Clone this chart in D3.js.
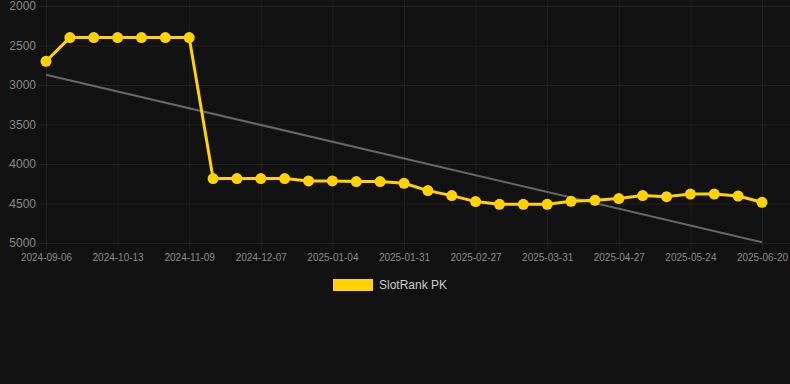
<!DOCTYPE html>
<html>
<head>
<meta charset="utf-8">
<script src="https://cdn.jsdelivr.net/npm/d3@7"></script>
<style>
  html, body { margin: 0; padding: 0; background: #111111; }
  svg { display: block; font-family: "Liberation Sans", Arial, sans-serif; }
</style>
</head>
<body>
<div id="chart"></div>
<script>
// Rank history line chart (lower rank number = better, so y is reversed)

const dates = [
  "2024-09-06", "2024-09-18", "2024-10-01", "2024-10-13", "2024-10-22", "2024-10-31",
  "2024-11-09", "2024-11-18", "2024-11-28", "2024-12-07", "2024-12-16", "2024-12-25",
  "2025-01-04", "2025-01-13", "2025-01-22", "2025-01-31", "2025-02-09", "2025-02-18",
  "2025-02-27", "2025-03-10", "2025-03-21", "2025-03-31", "2025-04-09", "2025-04-18",
  "2025-04-27", "2025-05-06", "2025-05-15", "2025-05-24", "2025-06-02", "2025-06-11",
  "2025-06-20"];

const ranks = [
  2700, 2400, 2400, 2400, 2400, 2400,
  2400, 4185, 4185, 4185, 4185, 4215,
  4215, 4223, 4223, 4244, 4337, 4400,
  4476, 4510, 4510, 4510, 4472, 4460,
  4438, 4400, 4413, 4380, 4380, 4405,
  4485];

// trend line end points (first and last date)
const trendDates = ["2024-09-06", "2025-06-20"];
const trendValues = [2870, 4990];

const yTicks = [2000, 2500, 3000, 3500, 4000, 4500, 5000];
const seriesName = "SlotRank PK";

const width = 790, height = 384;
const yellow = "#FFD200";

const svg = d3.select("#chart").
append("svg").
attr("width", width).
attr("height", height);

const x = d3.scalePoint().
domain(dates).
range([46, 762]);

const y = d3.scaleLinear().
domain([2000, 5000]).
range([6, 243]);

const gridColor = "#1f1f1f";

// Horizontal grid + y labels
const yAxis = svg.append("g").
attr("transform", "translate(38,0)").
call(d3.axisRight(y).
tickValues(yTicks).
tickSize(width - 38).
tickFormat(d3.format("d")));

yAxis.select(".domain").remove();
yAxis.selectAll(".tick line").attr("stroke", gridColor);
yAxis.selectAll(".tick text").
attr("x", -2).
attr("text-anchor", "end").
attr("fill", "#8a8a8a").
style("font-size", "12px");

// Vertical grid + x labels (every third date)
const xTickVals = dates.filter((d, i) => i % 3 === 0);
const xAxis = svg.append("g").
attr("transform", "translate(0,250)").
call(d3.axisBottom(x).
tickValues(xTickVals).
tickSize(-250).
tickPadding(4));

xAxis.select(".domain").remove();
xAxis.selectAll(".tick line").attr("stroke", gridColor);
xAxis.selectAll(".tick text").
attr("fill", "#8a8a8a").
style("font-size", "10px");

// Trend line
svg.append("path").
datum(trendDates.map((d, i) => [d, trendValues[i]])).
attr("fill", "none").
attr("stroke", "#666666").
attr("stroke-width", 2).
attr("d", d3.line().x(d => x(d[0])).y(d => y(d[1])));

// Series line
const points = dates.map((d, i) => [d, ranks[i]]);

svg.append("path").
datum(points).
attr("fill", "none").
attr("stroke", yellow).
attr("stroke-width", 3).
attr("stroke-linejoin", "round").
attr("d", d3.line().x(d => x(d[0])).y(d => y(d[1])));

svg.append("g").
selectAll("circle").
data(points).
join("circle").
attr("cx", d => x(d[0])).
attr("cy", d => y(d[1])).
attr("r", 5.5).
attr("fill", yellow);

// Legend
const legend = svg.append("g").attr("transform", "translate(333,279)");
legend.append("rect").
attr("width", 40).
attr("height", 12).
attr("fill", yellow);
legend.append("text").
attr("x", 46).
attr("y", 10).
attr("fill", "#cccccc").
style("font-size", "12px").
text(seriesName);
</script>
</body>
</html>
